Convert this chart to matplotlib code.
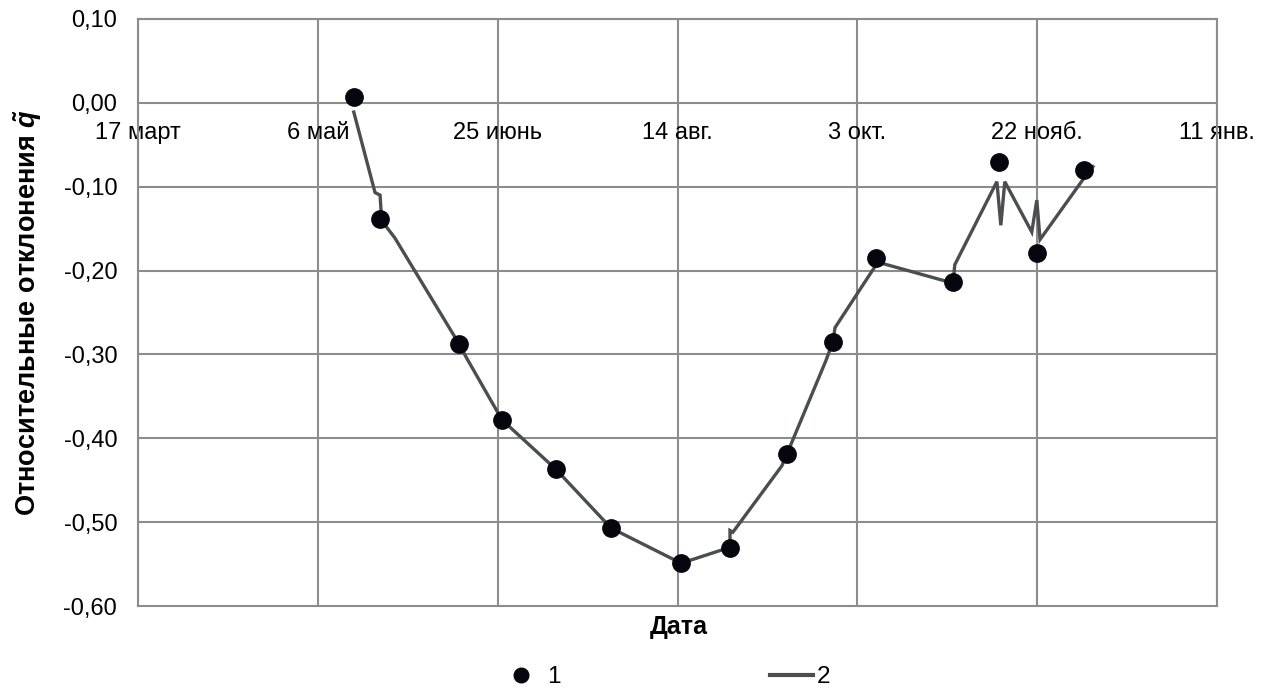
import matplotlib
matplotlib.use("Agg")
import matplotlib.pyplot as plt
from matplotlib.lines import Line2D

plt.rcParams['font.family'] = ['Liberation Sans', 'DejaVu Sans']
plt.rcParams['mathtext.fontset'] = 'custom'
plt.rcParams['mathtext.it'] = 'Liberation Sans:bold:italic'
plt.rcParams['mathtext.rm'] = 'Liberation Sans:bold'

# Days counted from 17 March
point_days = [60.0, 67.3, 89.2, 101.2, 116.2, 131.5, 151.0, 164.6, 180.4, 193.2, 205.3, 226.6, 239.5, 249.9, 263.1]
point_vals = [0.007, -0.138, -0.287, -0.378, -0.437, -0.507, -0.549, -0.531, -0.419, -0.285, -0.185, -0.214, -0.070, -0.179, -0.080]

line_days = [60.0, 65.9, 67.3, 67.6, 67.3, 71.4, 89.2, 91.2, 101.2, 116.2, 131.5, 151.0,
             164.6, 164.6, 165.4, 179.0, 180.4, 191.3, 193.2, 193.8, 205.7, 226.6, 227.1,
             238.8, 239.9, 241.0, 248.5, 249.9, 250.8, 263.3, 265.5]
line_vals = [-0.011, -0.107, -0.110, -0.130, -0.138, -0.161, -0.287, -0.303, -0.378, -0.437, -0.507, -0.549,
             -0.530, -0.510, -0.512, -0.433, -0.419, -0.307, -0.285, -0.268, -0.190, -0.215, -0.193,
             -0.094, -0.146, -0.094, -0.154, -0.116, -0.163, -0.088, -0.076]

tick_days = [0, 50, 100, 150, 200, 250, 300]
tick_labels = ['17 март', '6 май', '25 июнь', '14 авг.', '3 окт.', '22 нояб.', '11 янв.']
y_ticks = [0.10, 0.00, -0.10, -0.20, -0.30, -0.40, -0.50, -0.60]

fig = plt.figure(figsize=(12.65, 6.93), dpi=100)
ax = fig.add_axes([138/1265, 87/693, 1079/1265, 587/693])

grid_c = '#8c8c8c'
ax.set_xlim(0, 300)
ax.set_ylim(-0.6, 0.1)
ax.set_xticks(tick_days)
ax.set_xticklabels(tick_labels)
ax.set_yticks(y_ticks)
ax.set_yticklabels([f"{v:.2f}".replace('.', ',') for v in y_ticks])
ax.grid(True, color=grid_c, linewidth=1.5)
ax.set_axisbelow(True)
for g in ax.get_xgridlines() + ax.get_ygridlines():
    g.set_clip_on(False)

for s in ['left', 'right', 'top']:
    ax.spines[s].set_color(grid_c)
    ax.spines[s].set_linewidth(1.5)
ax.spines['bottom'].set_position(('data', 0))
ax.spines['bottom'].set_visible(False)

ax.tick_params(axis='both', length=0, labelsize=17, colors='black')
ax.tick_params(axis='x', pad=14)
ax.tick_params(axis='y', pad=15)

ax.plot(line_days, line_vals, color='#4a4e4e', linewidth=2.4, zorder=3, solid_joinstyle='miter')
ax.plot(point_days, point_vals, linestyle='none', marker='o', markersize=12.5,
        color='#06060f', zorder=4)

ax.set_ylabel('Относительные отклонения $\\tilde{q}$', fontsize=19.5, fontweight='bold', labelpad=14)
fig.text(679/1265, 1 - 627/693, 'Дата', fontsize=18, fontweight='bold', ha='center', va='center')

handles = [Line2D([], [], linestyle='none', marker='o', markersize=10.5, color='#06060f'),
           Line2D([], [], color='#4a4e4e', linewidth=3)]
fig.legend(handles, ['1', '2'], loc='center', bbox_to_anchor=(665/1265, 1 - 677/693), ncol=2,
           frameon=False, fontsize=17.5, columnspacing=8.6, handlelength=1.8, handletextpad=0.15)

fig.savefig('out.png', dpi=100)
